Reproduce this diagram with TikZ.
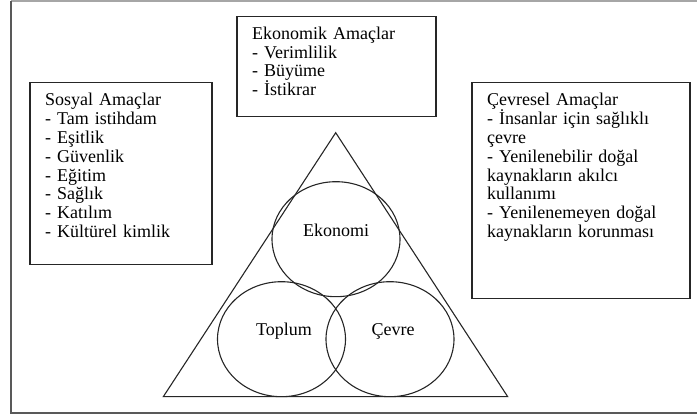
\documentclass[tikz,border=0pt]{standalone}
\usepackage{fontspec}
\setmainfont{Liberation Serif}
\usetikzlibrary{shapes.geometric}

\tikzset{
	goalbox/.style={draw=black!85, line width=1.5, rectangle, inner sep=0, anchor=north west},
	goaltext/.style={anchor=base west, inner sep=0, text width=200pt, align=left, font=\fontsize{18}{18.8}\selectfont},
	pillar/.style={draw=black!85, line width=1.1, ellipse, inner sep=0, minimum width=128, minimum height=115},
	pillartext/.style={inner sep=0, font=\fontsize{18}{18.8}\selectfont}
}

\begin{document}
\begin{tikzpicture}[x=1pt, y=-1pt]
	\useasboundingbox (0,0) rectangle (697,419);

	% frame
	\draw[color=black!35, line width=1.5] (697,0.8) -- (10.5,0.8);
	\draw[color=black!65, line width=2] (10.5,0.8) -- (10.5,413) -- (697,413);

	% goal boxes
	\node[goalbox, minimum width=199, minimum height=100] (eko) at (236,16) {};
	\node[goalbox, minimum width=182, minimum height=182] (sos) at (29,82) {};
	\node[goalbox, minimum width=218, minimum height=216] (cev) at (471,82) {};

	\node[goaltext] (ekotext) at (252,39.3) {Ekonomik Amaçlar\\- Verimlilik\\- Büyüme\\- İstikrar};
	\node[goaltext] (sostext) at (45,106) {Sosyal Amaçlar\\- Tam istihdam\\- Eşitlik\\- Güvenlik\\- Eğitim\\- Sağlık\\- Katılım\\- Kültürel kimlik};
	\node[goaltext] (cevtext) at (487,106) {Çevresel Amaçlar\\- İnsanlar için sağlıklı\\çevre\\- Yenilenebilir doğal\\kaynakların akılcı\\kullanımı\\- Yenilenemeyen doğal\\kaynakların korunması};

	% triangle
	\coordinate (apex) at (335.7,132.7);
	\coordinate (baseL) at (163.3,396.7);
	\coordinate (baseR) at (507.7,396.7);
	\draw[color=black!85, line width=1.1] (apex) -- (baseL) -- (baseR) -- cycle;

	% pillars
	\node[pillar] (ekonomi) at (336,239.2) {};
	\node[pillar] (toplum) at (281.5,339.2) {};
	\node[pillar] (cevre) at (390,339.2) {};

	\node[pillartext, anchor=base] (ekonomitext) at (336,236.7) {Ekonomi};
	\node[pillartext, anchor=base] (toplumtext) at (284,336) {Toplum};
	\node[pillartext, anchor=base] (cevretext) at (393,336) {Çevre};
\end{tikzpicture}
\end{document}
